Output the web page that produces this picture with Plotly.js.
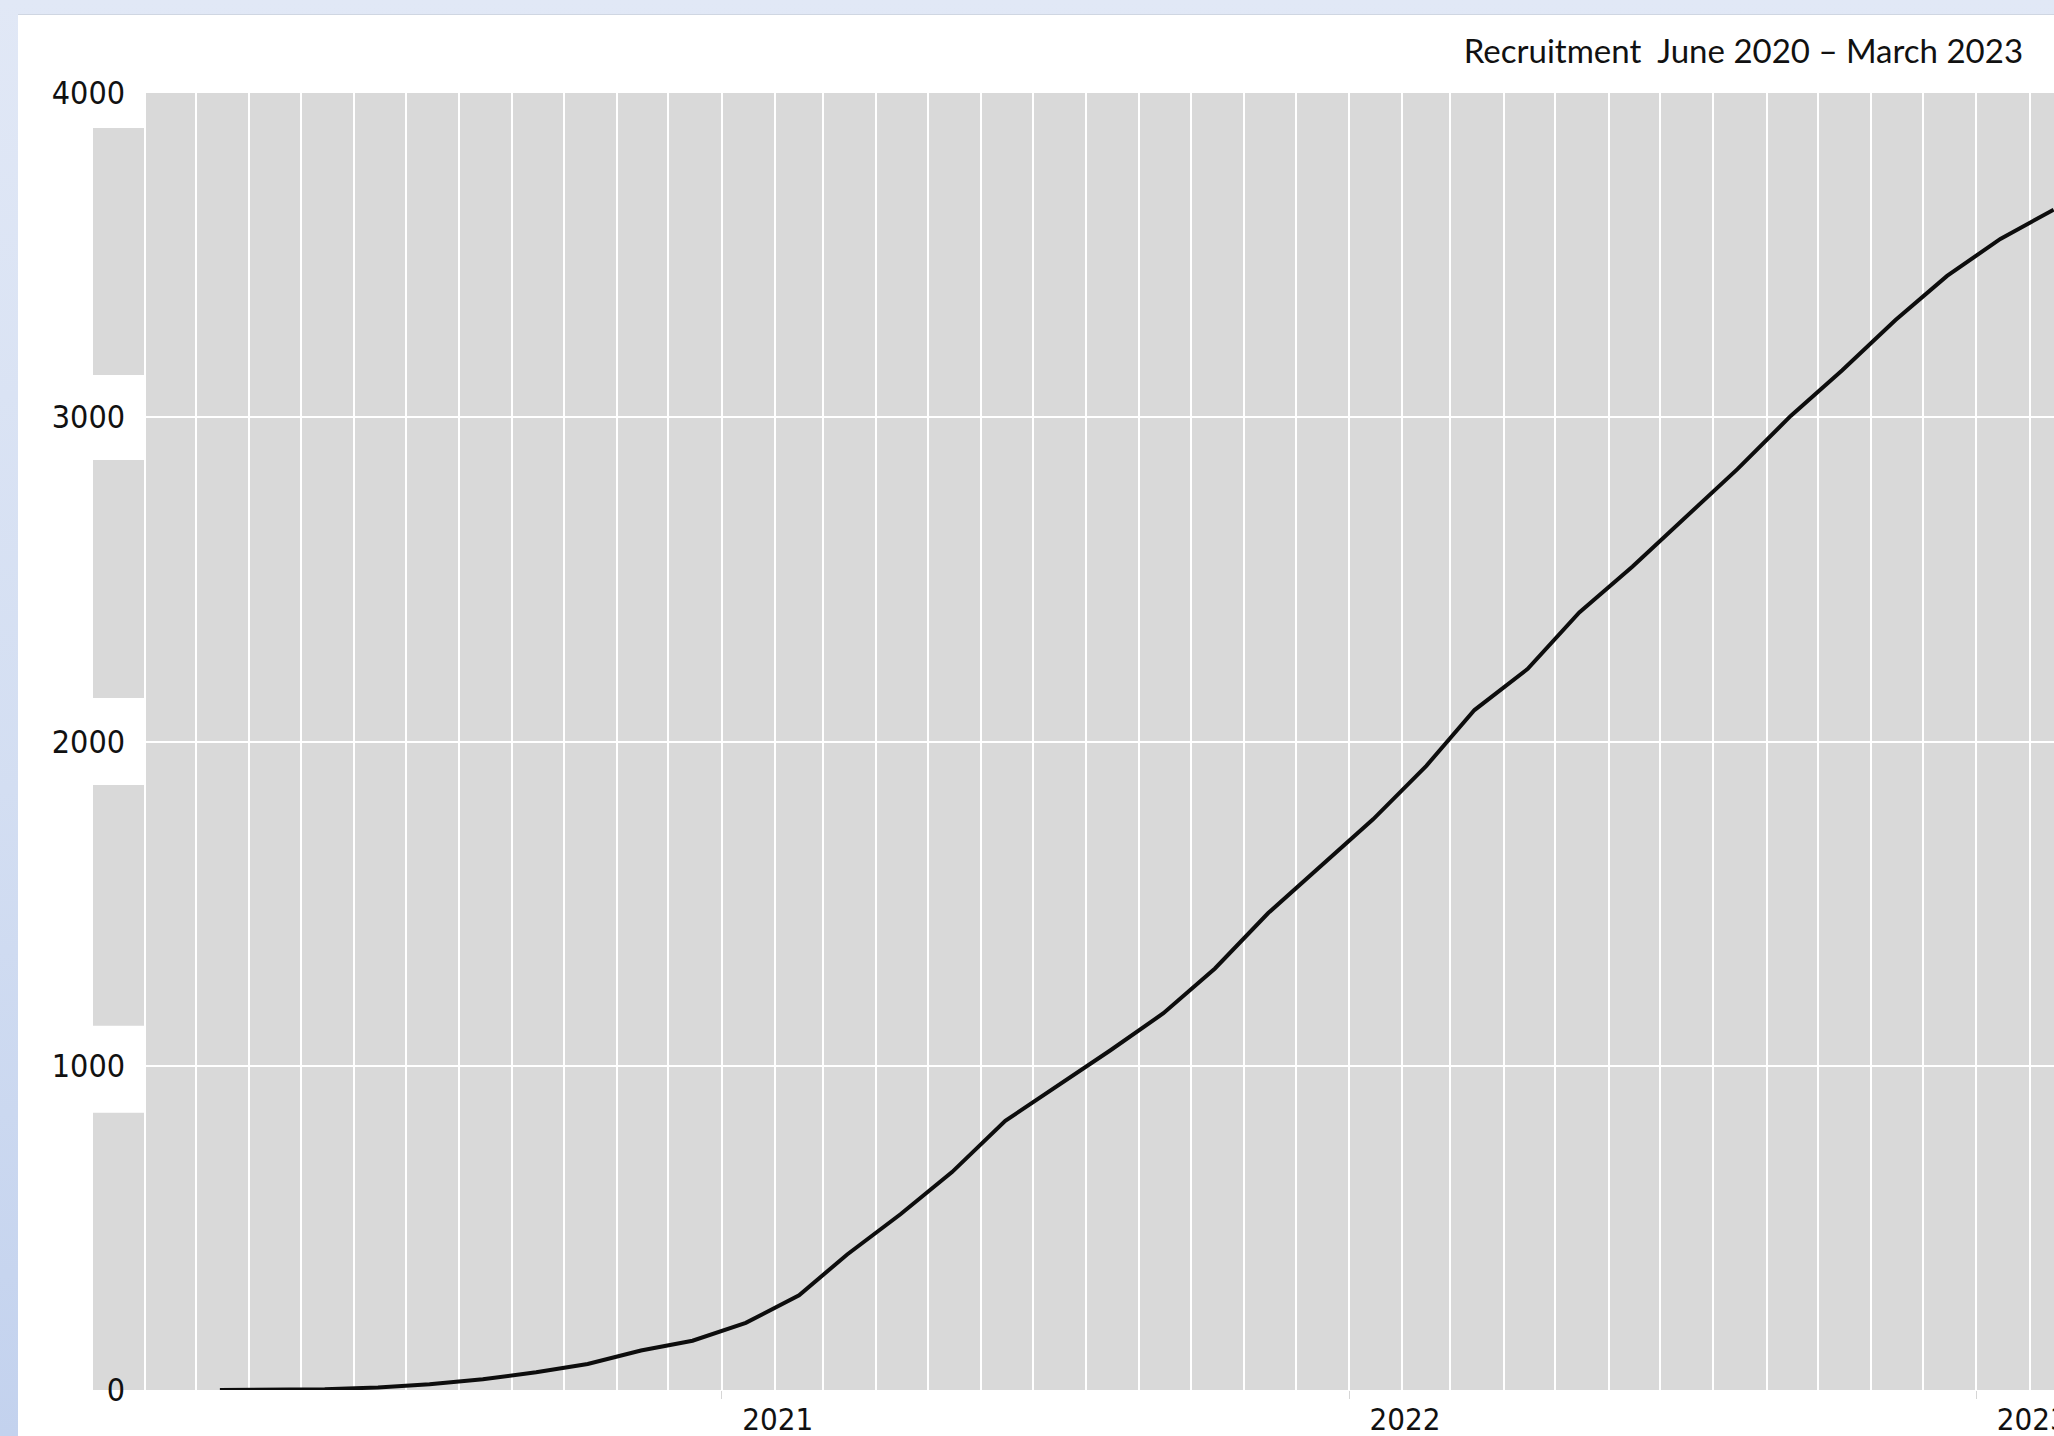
<!DOCTYPE html>
<html>
<head>
<meta charset="utf-8">
<script src="https://cdn.plot.ly/plotly-3.0.1.min.js"></script>
<style>
  html, body { margin: 0; padding: 0; width: 2054px; height: 1436px; overflow: hidden;
    background: linear-gradient(to bottom, #e1e8f6 0%, #d3def2 55%, #c3d2ee 100%); }
  #chart { position: absolute; left: 18px; top: 15px; width: 2036px; height: 1421px; background: #ffffff;
    box-shadow: 0 -1px 0 #cfd6e2; }
</style>
</head>
<body>
<div id="chart"></div>
<script>
// ---- data ----
const months = ['2020-03','2020-04','2020-05','2020-06','2020-07','2020-08','2020-09','2020-10','2020-11','2020-12',
                '2021-01','2021-02','2021-03','2021-04','2021-05','2021-06','2021-07','2021-08','2021-09','2021-10','2021-11','2021-12',
                '2022-01','2022-02','2022-03','2022-04','2022-05','2022-06','2022-07','2022-08','2022-09','2022-10','2022-11','2022-12',
                '2023-01','2023-02'];
const recruited = [0, 0, 2, 8, 18, 33, 55, 80, 122, 152,
                   207, 292, 418, 542, 672, 830, 936, 1047, 1162, 1300, 1471, 1614,
                   1760, 1925, 2097, 2224, 2398, 2540, 2688, 2840, 3004, 3145, 3300, 3436,
                   3550, 3640];
const yTickValues = [0, 1000, 2000, 3000, 4000];
const yTickLabels = ['0', '1000', '2000', '3000', '4000'];
const chartTitle = 'Recruitment\u00a0 June 2020 \u2013 March 2023';

// ---- layout helpers ----
const GRAY = '#d9d9d9';
const narrow = '"Liberation Sans Narrow", "DejaVu Sans Condensed", "Arial Narrow", sans-serif';
// grey strip left of the plot, interrupted behind the axis labels (y units)
const stripPieces = [[0, 855], [1123, 1866], [2134, 2868], [3130, 3892]];
const shapes = stripPieces.map(p => ({
  type: 'rect', layer: 'below', xref: 'paper', yref: 'y',
  x0: -0.02778, x1: -0.00105, y0: p[0], y1: p[1],
  fillcolor: GRAY, line: { width: 0 }
}));

const trace = {
  x: months.map(m => m + '-15'),
  y: recruited,
  type: 'scatter',
  mode: 'lines',
  line: { color: '#0d0d0d', width: 4 },
  hoverinfo: 'skip',
  showlegend: false
};

const layout = {
  width: 2036, height: 1421,
  margin: { l: 128, r: 0, t: 78, b: 46, pad: 0 },
  paper_bgcolor: '#ffffff',
  plot_bgcolor: GRAY,
  showlegend: false,
  title: {
    text: chartTitle,
    xref: 'container', yref: 'container',
    x: 0.9848, xanchor: 'right',
    y: 0.9747, yanchor: 'middle',
    font: { family: 'Lato, "Open Sans", sans-serif', size: 33, color: '#111111' }
  },
  xaxis: {
    type: 'date',
    range: ['2020-02-01', '2023-02-15 05:00'],
    tick0: '2021-01-01', dtick: 'M12', tickformat: '%Y',
    showgrid: true, gridcolor: '#ffffff', gridwidth: 2,
    minor: { tick0: '2020-01-01', dtick: 'M1', showgrid: true, gridcolor: '#ffffff', gridwidth: 2 },
    ticks: 'outside', ticklen: 8, tickwidth: 1, tickcolor: '#d6d6d6',
    ticklabelshift: 56, ticklabelstandoff: -6, ticklabeloverflow: 'allow',
    zeroline: false, showline: false, automargin: false, fixedrange: true,
    tickfont: { family: narrow, size: 31, color: '#111111' }
  },
  yaxis: {
    range: [0, 4000],
    tickmode: 'array', tickvals: yTickValues, ticktext: yTickLabels,
    showgrid: true, gridcolor: '#ffffff', gridwidth: 2,
    ticks: '', ticklabelstandoff: 20,
    zeroline: false, showline: false, automargin: false, fixedrange: true,
    tickfont: { family: narrow, size: 32, color: '#111111' }
  },
  shapes: shapes
};

Plotly.newPlot('chart', [trace], layout, { displayModeBar: false, staticPlot: true });
</script>
</body>
</html>
